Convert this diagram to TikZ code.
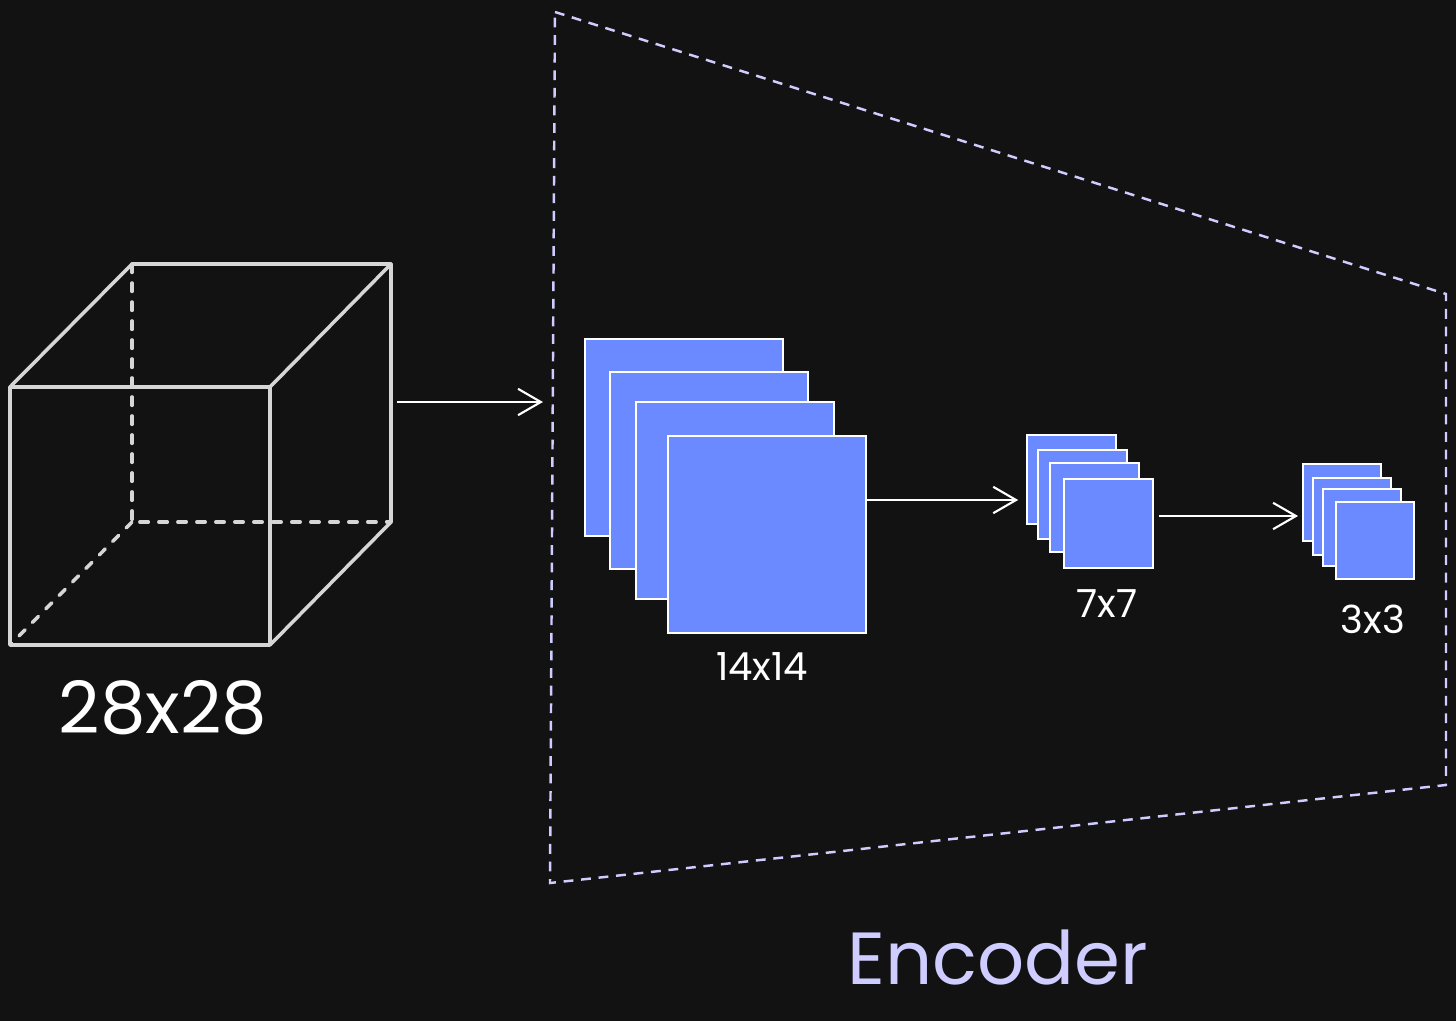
\documentclass[tikz,border=0pt]{standalone}
\usepackage{fontspec}
\setmainfont{Poppins}
\usepackage{xcolor}
\usetikzlibrary{arrows.meta}
\definecolor{bg}{HTML}{121212}
\definecolor{cubeline}{HTML}{D6D6D6}
\definecolor{lilac}{HTML}{CFCCFF}
\definecolor{mapblue}{HTML}{6C8AFF}

\begin{document}
\begin{tikzpicture}[x=0.01cm, y=-0.01cm,
	solidedge/.style={cubeline, line width=1pt, line cap=round, line join=round},
	hiddenedge/.style={cubeline, line width=1pt, line cap=round, dash pattern=on 2.4pt off 3pt},
	arr/.style={white, line width=0.6pt, -{Straight Barb[length=6.5pt, width=7.5pt]}},
	fmap/.style={rectangle, draw=white, fill=mapblue, line width=0.5pt, inner sep=0pt, outer sep=0pt, anchor=north west},
	map14/.style={fmap, minimum width=1.98cm, minimum height=1.97cm},
	map7/.style={fmap, minimum width=0.89cm, minimum height=0.89cm},
	map3/.style={fmap, minimum width=0.78cm, minimum height=0.77cm},
	lab/.style={white, font=\fontsize{11}{13}\selectfont}]
					%background
					\fill[bg] (0,0) rectangle (1456,1021);
					\useasboundingbox (0,0) rectangle (1456,1021);
					%cube corners
					\coordinate (cf1) at (10,387); \coordinate (cf2) at (270,387);
					\coordinate (cf3) at (270,645); \coordinate (cf4) at (10,645);
					\coordinate (cb1) at (132,264); \coordinate (cb2) at (391,264);
					\coordinate (cb3) at (391,522); \coordinate (cb4) at (132,522);
					%hidden edges
					\draw[hiddenedge] (cb1)--(cb4)--(cb3);
					\draw[hiddenedge] (cb4)--(cf4);
					%visible edges
					\draw[solidedge] (cf1) rectangle (cf3);
					\draw[solidedge] (cf1)--(cb1)--(cb2)--(cf2);
					\draw[solidedge] (cb2)--(cb3)--(cf3);
					\node[white, font=\fontsize{20.5}{24}\selectfont] (l28) at (163,708) {28x28};
					%encoder frame
					\draw[lilac, line width=0.7pt, dash pattern=on 2.8pt off 2.2pt] (555,12)--(1446,294)--(1446,785)--(550,883)--cycle;
					\node[lilac, font=\fontsize{21}{25}\selectfont] (enc) at (998,958) {Encoder};
					%input arrow
					\coordinate (cubeout) at (397,402);
					\coordinate (encin) at (543,402);
					\draw[arr] (cubeout)--(encin);
					%feature maps
					\foreach \x/\y [count=\i] in {585/339, 610/372, 636/402, 668/436}
						\node[map14] (m14-\i) at (\x,\y) {};
					\foreach \x/\y [count=\i] in {1027/435, 1038/450, 1050/463, 1064/479}
						\node[map7] (m7-\i) at (\x,\y) {};
					\foreach \x/\y [count=\i] in {1303/464, 1313/478, 1323/489, 1336/502}
						\node[map3] (m3-\i) at (\x,\y) {};
					%labels
					\node[lab] (l14) at (762,667) {14x14};
					\node[lab] (l7) at (1107,604) {7x7};
					\node[lab] (l3) at (1373,619) {3x3};
					%arrows between maps
					\draw[arr, shorten >=2.5pt] (m14-4.east |- 0,500)--(m7-1.west |- 0,500);
					\draw[arr, shorten <=1.7pt, shorten >=1.4pt] (m7-4.east |- 0,516)--(m3-1.west |- 0,516);
				\end{tikzpicture}
\end{document}
